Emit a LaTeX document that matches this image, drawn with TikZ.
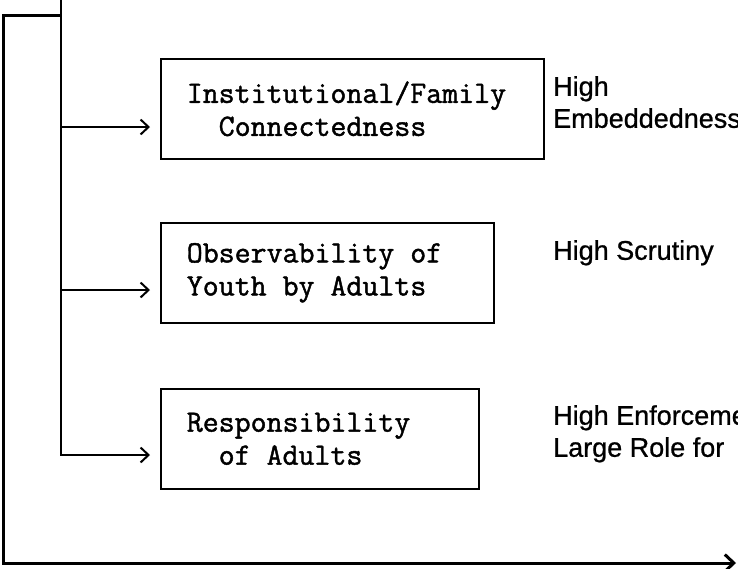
\documentclass[tikz,border=0pt]{standalone}
\usepackage{fontspec}
\newfontfamily\boxmono[FakeBold=1.4]{Latin Modern Mono}
\newfontfamily\labsans[FakeBold=0.8]{Liberation Sans}
\usetikzlibrary{arrows.meta}
\newcommand{\msp}{\phantom{x}}
\begin{document}
\begin{tikzpicture}[x=1pt,y=-1pt,
  stepbox/.style={draw, line width=1.6pt, minimum height=100pt, inner xsep=26pt,
    inner ysep=0pt, align=left, anchor=north west,
    font=\boxmono\fontsize{31}{33}\selectfont},
  sidelabel/.style={inner sep=0pt, align=left, anchor=north west,
    font=\labsans\fontsize{27}{32}\selectfont},
  branch/.style={line width=2pt, line join=miter,
    -{Straight Barb[length=8pt,width=15pt,line width=2pt]}, shorten >=10pt},
  outerline/.style={line width=3pt, line join=miter,
    -{Straight Barb[length=9pt,width=17pt,line width=3pt]}}]
\useasboundingbox (0,0) rectangle (738,568);
\clip (0,0) rectangle (738,568);

% boxes
\node[stepbox, text width=331pt] (b1) at (160,58)
  {Institutional/Family\\\msp\msp Connectedness};
\node[stepbox, text width=281pt] (b2) at (160,222)
  {Observability\msp of\\Youth\msp by\msp Adults};
\node[stepbox, text width=266pt] (b3) at (160,388)
  {Responsibility\\\msp\msp of\msp Adults};

% side labels
\node[sidelabel] (l1) at (553,76) {High\\Embeddedness};
\node[sidelabel] (l2) at (553,240) {High Scrutiny};
\node[sidelabel] (l3) at (553,405) {High Enforcement\\Large Role for};

% spine and branches
\coordinate (top) at (61,0);
\coordinate (jn) at (61,15);
\coordinate (tl) at (3,15);
\coordinate (bl) at (3,563);
\coordinate (br) at (736,563);
\coordinate (s1) at (61,127);
\coordinate (s2) at (61,290);
\coordinate (s3) at (61,455);

\draw[branch] (top) |- (s3 -| b3.west);
\draw[branch] (s1) -- (s1 -| b1.west);
\draw[branch] (s2) -- (s2 -| b2.west);

% outer frame line
\draw[outerline] (jn) -- (tl) -- (bl) -- (br);
\end{tikzpicture}
\end{document}
